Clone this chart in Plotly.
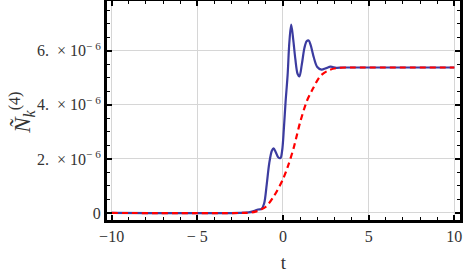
import plotly.graph_objects as go

SCALE = 1e-6

# blue solid curve (values in units of 1e-6)
t_blue = [-10, -2.5, -2.0, -1.7, -1.45, -1.25, -1.1, -0.95, -0.8, -0.65, -0.55, -0.42, -0.28,
          -0.15, -0.05, 0.05, 0.15, 0.27, 0.37, 0.48, 0.6, 0.72, 0.85, 0.96, 1.1, 1.25, 1.38,
          1.5, 1.62, 1.8, 2.0, 2.25, 2.5, 2.78, 3.1, 3.5, 4.5, 10]
v_blue = [0, 0, 0.02, 0.07, 0.13, 0.15, 0.35, 1.05, 1.85, 2.3, 2.39, 2.25, 2.06,
          2.03, 2.3, 3.1, 4.1, 5.1, 6.3, 6.97, 6.4, 5.7, 5.15, 5.05, 5.5, 6.1, 6.35,
          6.38, 6.2, 5.75, 5.4, 5.3, 5.35, 5.41, 5.37, 5.38, 5.38, 5.38]

# red dashed curve (values in units of 1e-6)
t_red = [-10, -2.5, -2.0, -1.6, -1.3, -1.0, -0.55, 0, 0.3, 0.62, 1.0, 1.4, 1.75, 2.2,
         2.75, 3.3, 4, 5, 10]
v_red = [0, 0, 0.01, 0.05, 0.13, 0.23, 0.6, 1.25, 1.75, 2.4, 3.35, 4.15, 4.6, 5.08,
         5.3, 5.37, 5.38, 5.38, 5.38]

x_tickvals = [-10, -5, 0, 5, 10]
x_ticktext = ["\u221210", "\u2212 5", "0", "5", "10"]
y_tickvals = [0, 2, 4, 6]
y_ticktext = ["0", "2.  \u00d7 10<sup>\u2212 6</sup>", "4.  \u00d7 10<sup>\u2212 6</sup>",
              "6.  \u00d7 10<sup>\u2212 6</sup>"]

fig = go.Figure()
fig.add_trace(go.Scatter(
    x=t_blue, y=[v * SCALE for v in v_blue], mode="lines",
    line=dict(color="#3c3ca0", width=2.2, shape="spline", smoothing=0.9),
    showlegend=False))
fig.add_trace(go.Scatter(
    x=t_red, y=[v * SCALE for v in v_red], mode="lines",
    line=dict(color="#ff0000", width=2.2, dash="6px,4px", shape="spline", smoothing=0.9),
    showlegend=False))

serif = "Liberation Serif, Times New Roman, serif"

fig.update_layout(
    width=463, height=274,
    margin=dict(l=107, r=3, t=1, b=54),
    paper_bgcolor="white", plot_bgcolor="white",
    font=dict(family=serif, size=16, color="#333"),
    xaxis=dict(
        automargin=False,
        range=[-10.27, 10.33],
        tickvals=x_tickvals, ticktext=x_ticktext,
        ticks="inside", ticklen=5, tickwidth=1.5, tickcolor="black",
        minor=dict(dtick=1, ticks="inside", ticklen=3, tickwidth=1, tickcolor="black",
                   showgrid=False),
        showline=True, linewidth=3, linecolor="black", mirror="ticks",
        showgrid=True, gridcolor="#d6d6d6", gridwidth=1, zeroline=False,
        tickfont=dict(family=serif, size=16, color="#333"),
        title=dict(text="t", font=dict(family=serif, size=19, color="#333"), standoff=12),
    ),
    yaxis=dict(
        automargin=False,
        range=[-0.26 * SCALE, 7.84 * SCALE],
        tickvals=[v * SCALE for v in y_tickvals], ticktext=y_ticktext,
        ticks="inside", ticklen=5, tickwidth=1.5, tickcolor="black",
        minor=dict(dtick=0.5 * SCALE, ticks="inside", ticklen=3, tickwidth=1,
                   tickcolor="black", showgrid=False),
        showline=True, linewidth=3, linecolor="black", mirror="ticks",
        showgrid=True, gridcolor="#d6d6d6", gridwidth=1, zeroline=False,
        tickfont=dict(family=serif, size=16, color="#333"),
    ),
    annotations=[dict(
        text="<i>\u00d1</i><sub><i>k</i></sub><sup>(4)</sup>",
        xref="paper", yref="paper", x=-0.29, y=0.49,
        showarrow=False, textangle=-90,
        font=dict(family=serif, size=23, color="#333"),
    )],
)

fig.write_html("out.html",
               config={"displayModeBar": False},
               post_script="document.body.style.margin='0px';document.body.style.padding='0px';")
